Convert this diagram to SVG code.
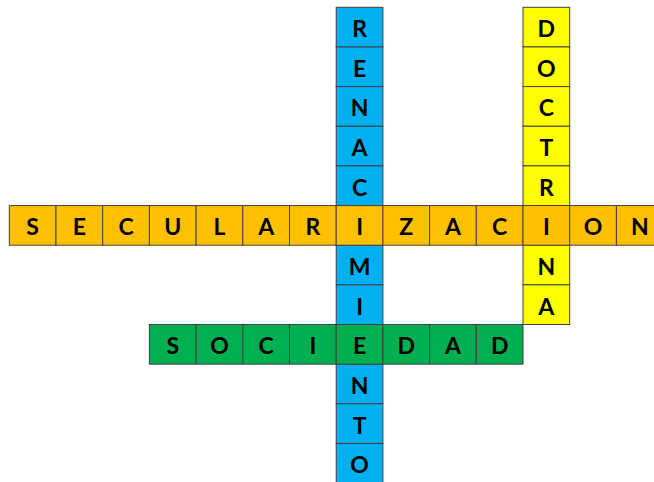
<svg xmlns="http://www.w3.org/2000/svg" width="654" height="482" viewBox="0 0 654 482">
<style>
rect{stroke:#404040;stroke-width:1}
.b{fill:#00B0F0}.y{fill:#FFFF00}.o{fill:#FFC000}.g{fill:#00B050}
text{font-family:Lato,"Liberation Sans",sans-serif;font-weight:700;font-size:23px;fill:#000;text-anchor:middle}
</style>
<rect width="654" height="482" fill="#fff" style="stroke:none"/>
<g id="renacimiento">
<rect class="b" x="336.2" y="7.3" width="46.7" height="39.65"/>
<rect class="b" x="336.2" y="46.95" width="46.7" height="39.65"/>
<rect class="b" x="336.2" y="86.6" width="46.7" height="39.65"/>
<rect class="b" x="336.2" y="126.25" width="46.7" height="39.65"/>
<rect class="b" x="336.2" y="165.9" width="46.7" height="39.65"/>
<rect class="b" x="336.2" y="245.2" width="46.7" height="39.65"/>
<rect class="b" x="336.2" y="284.85" width="46.7" height="39.65"/>
<rect class="b" x="336.2" y="364.15" width="46.7" height="39.65"/>
<rect class="b" x="336.2" y="403.8" width="46.7" height="39.65"/>
<rect class="b" x="336.2" y="443.45" width="46.7" height="39.65"/>
<text x="359.55" y="37.1">R</text>
<text x="359.55" y="76.75">E</text>
<text x="359.55" y="116.4">N</text>
<text x="359.55" y="156.05">A</text>
<text x="359.55" y="195.7">C</text>
<text x="359.55" y="275">M</text>
<text x="359.55" y="314.65">I</text>
<text x="359.55" y="393.95">N</text>
<text x="359.55" y="433.6">T</text>
<text x="359.55" y="473.25">O</text>
</g>
<g id="doctrina">
<rect class="y" x="523" y="7.3" width="46.7" height="39.65"/>
<rect class="y" x="523" y="46.95" width="46.7" height="39.65"/>
<rect class="y" x="523" y="86.6" width="46.7" height="39.65"/>
<rect class="y" x="523" y="126.25" width="46.7" height="39.65"/>
<rect class="y" x="523" y="165.9" width="46.7" height="39.65"/>
<rect class="y" x="523" y="245.2" width="46.7" height="39.65"/>
<rect class="y" x="523" y="284.85" width="46.7" height="39.65"/>
<text x="546.35" y="37.1">D</text>
<text x="546.35" y="76.75">O</text>
<text x="546.35" y="116.4">C</text>
<text x="546.35" y="156.05">T</text>
<text x="546.35" y="195.7">R</text>
<text x="546.35" y="275">N</text>
<text x="546.35" y="314.65">A</text>
</g>
<g id="secularizacion">
<rect class="o" x="9.3" y="205.55" width="46.7" height="39.65"/>
<rect class="o" x="56" y="205.55" width="46.7" height="39.65"/>
<rect class="o" x="102.7" y="205.55" width="46.7" height="39.65"/>
<rect class="o" x="149.4" y="205.55" width="46.7" height="39.65"/>
<rect class="o" x="196.1" y="205.55" width="46.7" height="39.65"/>
<rect class="o" x="242.8" y="205.55" width="46.7" height="39.65"/>
<rect class="o" x="289.5" y="205.55" width="46.7" height="39.65"/>
<rect class="o" x="336.2" y="205.55" width="46.7" height="39.65"/>
<rect class="o" x="382.9" y="205.55" width="46.7" height="39.65"/>
<rect class="o" x="429.6" y="205.55" width="46.7" height="39.65"/>
<rect class="o" x="476.3" y="205.55" width="46.7" height="39.65"/>
<rect class="o" x="523" y="205.55" width="46.7" height="39.65"/>
<rect class="o" x="569.7" y="205.55" width="46.7" height="39.65"/>
<rect class="o" x="616.4" y="205.55" width="46.7" height="39.65"/>
<text x="32.65" y="235.35">S</text>
<text x="79.35" y="235.35">E</text>
<text x="126.05" y="235.35">C</text>
<text x="172.75" y="235.35">U</text>
<text x="219.45" y="235.35">L</text>
<text x="266.15" y="235.35">A</text>
<text x="312.85" y="235.35">R</text>
<text x="359.55" y="235.35">I</text>
<text x="406.25" y="235.35">Z</text>
<text x="452.95" y="235.35">A</text>
<text x="499.65" y="235.35">C</text>
<text x="546.35" y="235.35">I</text>
<text x="593.05" y="235.35">O</text>
<text x="639.75" y="235.35">N</text>
</g>
<g id="sociedad">
<rect class="g" x="149.4" y="324.5" width="46.7" height="39.65"/>
<rect class="g" x="196.1" y="324.5" width="46.7" height="39.65"/>
<rect class="g" x="242.8" y="324.5" width="46.7" height="39.65"/>
<rect class="g" x="289.5" y="324.5" width="46.7" height="39.65"/>
<rect class="g" x="336.2" y="324.5" width="46.7" height="39.65"/>
<rect class="g" x="382.9" y="324.5" width="46.7" height="39.65"/>
<rect class="g" x="429.6" y="324.5" width="46.7" height="39.65"/>
<rect class="g" x="476.3" y="324.5" width="46.7" height="39.65"/>
<text x="172.75" y="354.3">S</text>
<text x="219.45" y="354.3">O</text>
<text x="266.15" y="354.3">C</text>
<text x="312.85" y="354.3">I</text>
<text x="359.55" y="354.3">E</text>
<text x="406.25" y="354.3">D</text>
<text x="452.95" y="354.3">A</text>
<text x="499.65" y="354.3">D</text>
</g>
</svg>
